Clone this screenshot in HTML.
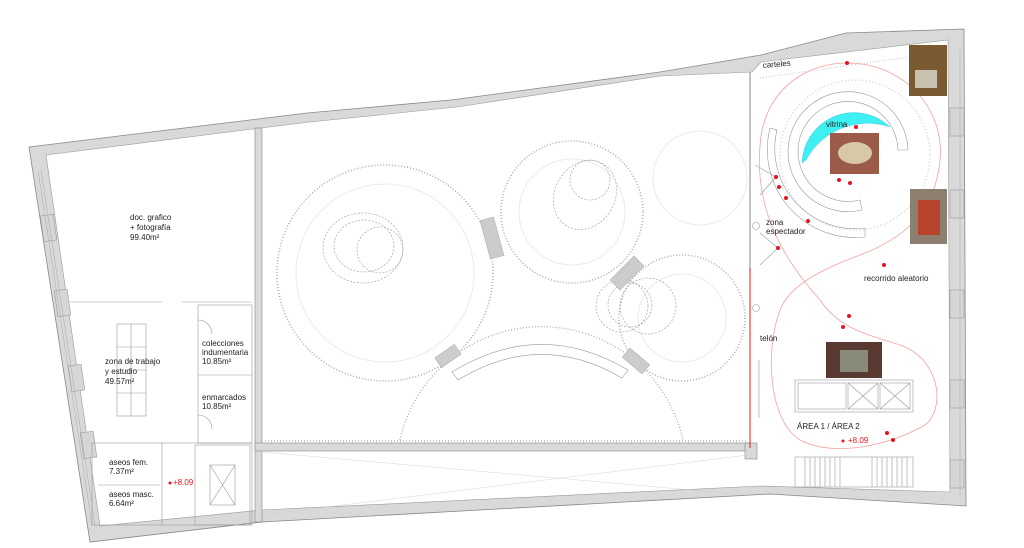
<!DOCTYPE html>
<html><head><meta charset="utf-8"><style>
html,body{margin:0;padding:0;background:#fff;}
svg{display:block;}
text{font-family:"Liberation Sans",sans-serif;font-size:8px;fill:#222;}
.r{fill:#e8141c;}
</style></head><body>
<svg width="1024" height="548" viewBox="0 0 1024 548" xmlns="http://www.w3.org/2000/svg">
<path d="M29,147 L307,113 L451,100 L660,72 L761,55 L846,33 L964,29 L966,506 L770,494 L262,522 L90,542 Z" fill="#d9d9d9" stroke="#888" stroke-width="0.8"/>
<path d="M46,155 L261,128 L310,122 L457,107 L660,76 L752,72 L761,62 L948,40 L950,492 L760,486 L262,510 L100,526 Z" fill="#fff" stroke="#999" stroke-width="0.6"/>
<g fill="#d6d6d6" stroke="#999" stroke-width="0.6">
<rect x="42" y="215" width="13" height="26" transform="rotate(-8 48 228)"/>
<rect x="56" y="290" width="13" height="26" transform="rotate(-8 62 303)"/>
<rect x="70" y="365" width="13" height="26" transform="rotate(-8 76 378)"/>
<rect x="82" y="432" width="13" height="26" transform="rotate(-8 88 445)"/>
<rect x="950" y="108" width="14" height="28"/>
<rect x="950" y="190" width="14" height="28"/>
<rect x="950" y="290" width="14" height="28"/>
<rect x="950" y="380" width="14" height="28"/>
<rect x="950" y="460" width="14" height="28"/>
</g>
<g stroke="#aaa" stroke-width="0.5" fill="none">
<line x1="38" y1="170" x2="92" y2="525"/><line x1="41" y1="170" x2="95" y2="525"/>
<line x1="960" y1="50" x2="960" y2="495"/>
</g>
<g fill="#d9d9d9" stroke="#888" stroke-width="0.6">
<rect x="255" y="128" width="7" height="394"/>
<rect x="255" y="443" width="495" height="8"/>
<rect x="745" y="443" width="12" height="16"/>
</g>
<line x1="750" y1="72" x2="750" y2="445" stroke="#888" stroke-width="1"/>
<line x1="750" y1="268" x2="750" y2="448" stroke="#e8141c" stroke-width="1"/>
<g stroke="#ccc" stroke-width="0.4"><line x1="262" y1="452" x2="748" y2="495"/><line x1="262" y1="515" x2="748" y2="455"/></g>
<g stroke="#999" stroke-width="0.6" fill="none">
<line x1="70" y1="302" x2="162" y2="302"/><line x1="182" y1="302" x2="252" y2="302"/>
<rect x="198" y="305" width="54" height="138"/><line x1="198" y1="375" x2="252" y2="375"/>
<path d="M198,320 a14,14 0 0 1 14,14 M198,415 a14,14 0 0 1 14,14"/>
<rect x="117" y="324" width="29" height="92"/><line x1="131" y1="324" x2="131" y2="416"/>
<line x1="117" y1="347" x2="146" y2="347"/><line x1="117" y1="370" x2="146" y2="370"/><line x1="117" y1="393" x2="146" y2="393"/>
<rect x="92" y="443" width="160" height="82"/><line x1="162" y1="443" x2="162" y2="525"/>
<line x1="98" y1="485" x2="160" y2="485"/>
<rect x="195" y="445" width="55" height="80"/><rect x="210" y="465" width="25" height="40"/>
<line x1="210" y1="465" x2="235" y2="505"/><line x1="235" y1="465" x2="210" y2="505"/>
</g>
<g fill="none">
<circle cx="385" cy="273" r="108" stroke="#aaa" stroke-width="1.5" stroke-dasharray="1 2"/>
<circle cx="385" cy="273" r="89" stroke="#e6e6e6" stroke-width="0.8"/>
<circle cx="572" cy="212" r="71" stroke="#aaa" stroke-width="1.5" stroke-dasharray="1 2"/>
<circle cx="572" cy="212" r="53" stroke="#e6e6e6" stroke-width="0.8"/>
<circle cx="700" cy="178" r="47" stroke="#e6e6e6" stroke-width="0.8"/>
<circle cx="682" cy="318" r="63" stroke="#aaa" stroke-width="1.5" stroke-dasharray="1 2"/>
<circle cx="682" cy="318" r="44" stroke="#e6e6e6" stroke-width="0.8"/>
<path d="M400,440 A145,145 0 0 1 683,440" stroke="#aaa" stroke-width="1.3" stroke-dasharray="1 2"/>
<line x1="265" y1="441" x2="748" y2="441" stroke="#aaa" stroke-width="1.3" stroke-dasharray="1 2"/>
<g stroke="#999" stroke-width="0.6" stroke-dasharray="2 1.5">
<ellipse cx="363" cy="248" rx="40" ry="35"/><ellipse cx="364" cy="246" rx="30" ry="26"/><circle cx="380" cy="250" r="23"/>
<ellipse cx="585" cy="195" rx="30" ry="36" transform="rotate(30 585 195)"/><circle cx="590" cy="180" r="20"/>
<circle cx="622" cy="306" r="26"/><circle cx="630" cy="305" r="22"/><circle cx="648" cy="306" r="28"/>
</g>
<path d="M452,372 Q540,318 628,370 L622,378 Q540,330 458,380 Z" stroke="#999" stroke-width="0.6"/>
</g>
<g fill="#ccc" stroke="#aaa" stroke-width="0.5">
<rect x="485" y="218" width="14" height="40" transform="rotate(-15 492 238)"/>
<rect x="620" y="256" width="14" height="34" transform="rotate(45 627 273)"/>
<rect x="442" y="344" width="12" height="24" transform="rotate(55 448 356)"/>
<rect x="630" y="348" width="12" height="26" transform="rotate(-50 636 361)"/>
</g>
<path d="M760,78 L945,52" stroke="#ccc" stroke-width="1.3" stroke-dasharray="1 2"/>
<circle cx="855" cy="155" r="75" fill="none" stroke="#ccc" stroke-width="1.3" stroke-dasharray="1 2.5"/>
<path d="M862,210 A60,60 0 1 1 908,150 L898,150 A50,50 0 1 0 860,200 Z" fill="none" stroke="#999" stroke-width="0.6"/>
<path d="M777,130 A80,80 0 0 0 865,228 L865,237 A88,88 0 0 1 770,128 Z" fill="none" stroke="#999" stroke-width="0.6"/>
<path d="M802,163 A52,52 0 0 1 890,127 A70,70 0 0 0 806,160 Z" fill="#3ff0f2" stroke="#3ad" stroke-width="0.3"/>
<g stroke="#999" stroke-width="0.6" fill="none">
<line x1="755" y1="165" x2="776" y2="177"/><line x1="760" y1="195" x2="776" y2="177"/>
<line x1="760" y1="233" x2="778" y2="248"/><line x1="760" y1="265" x2="778" y2="248"/>
<circle cx="756" cy="226" r="3.5"/><circle cx="756" cy="308" r="3.5"/>
<line x1="759" y1="360" x2="759" y2="418"/>
<rect x="795" y="380" width="118" height="32"/><rect x="798" y="383" width="48" height="26"/>
<rect x="848" y="383" width="30" height="26"/><rect x="880" y="383" width="30" height="26"/>
<path d="M848,383 L878,409 M878,383 L848,409 M880,383 L910,409 M910,383 L880,409"/>
<rect x="795" y="457" width="118" height="30"/>
<path d="M805,457v30M810,457v30M815,457v30M820,457v30M825,457v30M830,457v30M835,457v30M840,457v30 M872,457v30M877,457v30M882,457v30M887,457v30M892,457v30M897,457v30M902,457v30M907,457v30"/>
</g>
<path d="M847,63 C905,63 945,110 940,160 C935,215 900,240 860,255 C820,270 790,285 780,310 C765,350 768,420 800,440 C835,458 890,445 925,425 C945,410 942,360 900,345 C870,335 840,330 820,300 C770,245 752,190 762,130 C772,85 810,63 847,63 Z" fill="none" stroke="#f4a0a0" stroke-width="0.8"/>
<g class="r">
<circle cx="847" cy="63" r="2"/><circle cx="856" cy="127" r="2"/><circle cx="839" cy="180" r="2"/><circle cx="850" cy="183" r="2"/>
<circle cx="776" cy="177" r="2"/><circle cx="779" cy="187" r="2"/><circle cx="786" cy="198" r="2"/><circle cx="808" cy="221" r="2"/>
<circle cx="778" cy="248" r="2"/><circle cx="884" cy="265" r="2"/><circle cx="849" cy="316" r="2"/><circle cx="843" cy="327" r="2"/>
<circle cx="887" cy="433" r="2"/><circle cx="893" cy="440" r="2"/><circle cx="843" cy="441" r="1.5"/><circle cx="170" cy="483" r="1.5"/>
</g>
<rect x="909" y="45" width="38" height="51" fill="#7a5a30"/><rect x="915" y="70" width="22" height="18" fill="#c9c2b0"/>
<rect x="910" y="189" width="37" height="55" fill="#8c7f70"/><rect x="918" y="200" width="22" height="35" fill="#b8442c"/>
<rect x="830" y="133" width="49" height="41" fill="#9c5a48"/><ellipse cx="855" cy="153" rx="17" ry="11" fill="#d8c8a8"/>
<rect x="826" y="342" width="56" height="36" fill="#5a3a30"/><rect x="840" y="350" width="28" height="22" fill="#8a8a7a"/>
<text x="130" y="220">doc. grafico</text><text x="130" y="230">+ fotografía</text><text x="130" y="240" font-size="7">99.40m²</text>
<text x="105" y="364">zona de trabajo</text><text x="105" y="374">y estudio</text><text x="105" y="384" font-size="7">49.57m²</text>
<text x="202" y="346">colecciones</text><text x="202" y="355">indumentaria</text><text x="202" y="364" font-size="7">10.85m²</text>
<text x="202" y="400">enmarcados</text><text x="202" y="409" font-size="7">10.85m²</text>
<text x="109" y="465">aseos fem.</text><text x="109" y="474" font-size="7">7.37m²</text>
<text x="109" y="497">aseos masc.</text><text x="109" y="506" font-size="7">6.64m²</text>
<text x="173" y="485" style="fill:#e8141c">+8.09</text>
<text x="763" y="68" transform="rotate(-5 763 68)">carteles</text>
<text x="826" y="127">vitrina</text>
<text x="766" y="225">zona</text><text x="766" y="234">espectador</text>
<text x="864" y="281">recorrido aleatorio</text>
<text x="760" y="341">telón</text>
<text x="797" y="429">ÁREA 1 / ÁREA 2</text>
<text x="848" y="443" style="fill:#e8141c">+8.09</text>
</svg>
</body></html>
